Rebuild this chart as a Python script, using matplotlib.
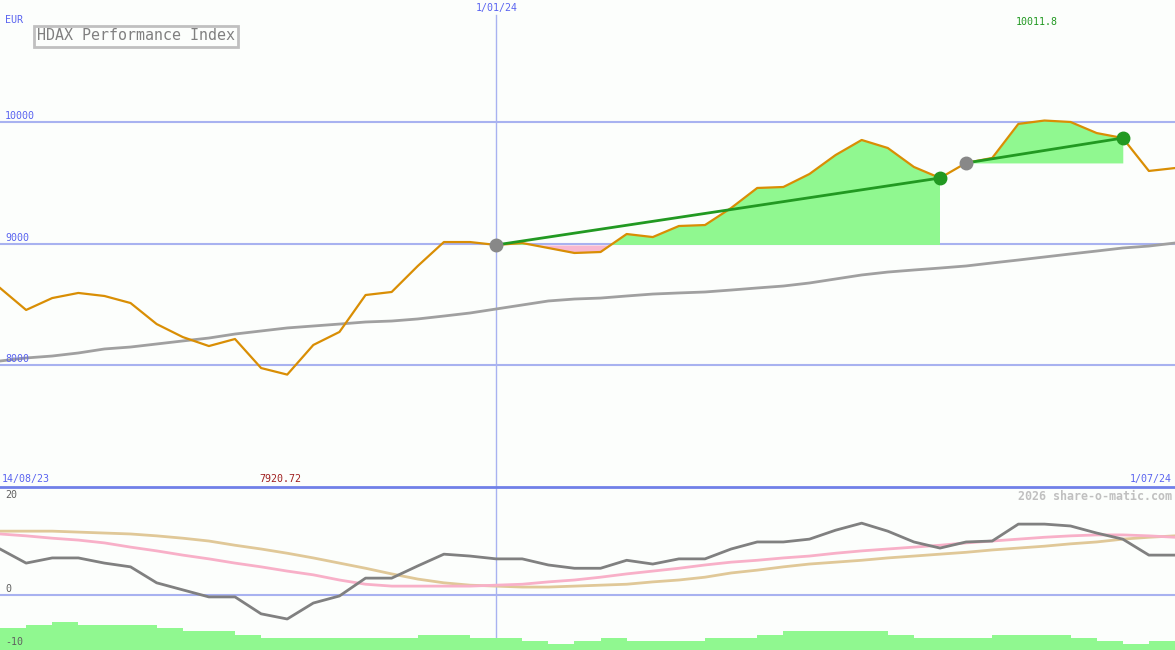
import numpy as np
import matplotlib
matplotlib.use("Agg")
import matplotlib.pyplot as plt

# weekly closes, 14/08/23 .. 1/07/24
price = [8634, 8453, 8551, 8593, 8568, 8510, 8337, 8230, 8156, 8214,
         7975, 7921, 8165, 8272, 8576, 8601, 8815, 9012, 9012, 8988,
         9004, 8963, 8922, 8930, 9078, 9053, 9144, 9152, 9292, 9457,
         9465, 9572, 9728, 9852, 9786, 9630, 9539, 9663, 9704, 9984,
         10012, 10000, 9909, 9868, 9597, 9621]
ma = [8033, 8058, 8074, 8099, 8132, 8148, 8173, 8198, 8222, 8255,
      8280, 8305, 8321, 8337, 8354, 8362, 8379, 8403, 8428, 8461,
      8494, 8527, 8543, 8551, 8568, 8584, 8593, 8601, 8617, 8634,
      8650, 8675, 8708, 8741, 8765, 8782, 8798, 8815, 8840, 8864,
      8889, 8914, 8938, 8963, 8979, 9004]
# lower panel
mom = [9.8, 6.8, 7.9, 7.9, 6.8, 6.0, 2.6, 1.1, -0.4, -0.4,
       -4.0, -5.1, -1.7, -0.2, 3.6, 3.6, 6.2, 8.7, 8.3, 7.7,
       7.7, 6.4, 5.7, 5.7, 7.4, 6.6, 7.7, 7.7, 9.8, 11.3,
       11.3, 11.9, 13.8, 15.3, 13.6, 11.3, 10.0, 11.3, 11.5, 15.1,
       15.1, 14.7, 13.2, 11.9, 8.5, 8.5]
sig1 = [13.0, 12.6, 12.1, 11.7, 11.1, 10.2, 9.4, 8.5, 7.7, 6.8,
        6.0, 5.1, 4.3, 3.2, 2.3, 1.9, 1.9, 1.9, 1.9, 2.1,
        2.3, 2.8, 3.2, 3.8, 4.5, 5.1, 5.7, 6.4, 7.0, 7.4,
        7.9, 8.3, 8.9, 9.4, 9.8, 10.2, 10.6, 11.1, 11.5, 11.9,
        12.3, 12.6, 12.8, 12.8, 12.6, 12.3]
sig2 = [13.6, 13.6, 13.6, 13.4, 13.2, 13.0, 12.6, 12.1, 11.5, 10.6,
        9.8, 8.9, 7.9, 6.8, 5.7, 4.5, 3.4, 2.6, 2.1, 1.9,
        1.7, 1.7, 1.9, 2.1, 2.3, 2.8, 3.2, 3.8, 4.7, 5.3,
        6.0, 6.6, 7.0, 7.4, 7.9, 8.3, 8.7, 9.1, 9.6, 10.0,
        10.4, 10.9, 11.3, 11.9, 12.3, 12.6]
bars = [-7.0, -6.4, -5.7, -6.4, -6.4, -6.4, -7.0, -7.7, -7.7, -8.5,
        -9.1, -9.1, -9.1, -9.1, -9.1, -9.1, -8.5, -8.5, -9.1, -9.1,
        -9.8, -10.4, -9.8, -9.1, -9.8, -9.8, -9.8, -9.1, -9.1, -8.5,
        -7.7, -7.7, -7.7, -7.7, -8.5, -9.1, -9.1, -9.1, -8.5, -8.5,
        -8.5, -9.1, -9.8, -10.4, -9.8]
trends = [(19, 36), (37, 43)]
grid_levels = [10000, 9000, 8000]

W, H = 1175, 650
bg = "#fcfefc"
blue_txt = "#5a64f0"
grid_c = "#a8b2f0"
mono = "DejaVu Sans Mono"

fig = plt.figure(figsize=(W / 100, H / 100), dpi=100, facecolor=bg)
top = fig.add_axes([0, 163 / H, 1, 487 / H])
bot = fig.add_axes([0, 0, 1, 163 / H])
for ax in (top, bot):
    ax.set_facecolor(bg)
    ax.set_axis_off()
    ax.set_xlim(0, 45)

x = np.arange(len(price))
p = np.array(price, dtype=float)

top.set_ylim(6996, 11004)
for lv in grid_levels:
    top.axhline(lv, color=grid_c, lw=1.5, zorder=1)
top.axvline(19, color=grid_c, lw=1, ymin=0, ymax=0.97, zorder=1)
top.plot(x, ma, color="#a0a0a0", lw=2, zorder=3)

for a, b in trends:
    xs = x[a:b + 1]
    ys = p[a:b + 1]
    base = p[a]
    top.fill_between(xs, ys, base, where=ys >= base, interpolate=True,
                     color="#90f890", lw=0, zorder=2)
    top.fill_between(xs, ys, base, where=ys < base, interpolate=True,
                     color="#f8b8d0", lw=0, zorder=2)
    top.plot([a, b], [p[a], p[b]], color="#229922", lw=2, zorder=5)
    top.plot(a, p[a], "o", color="#888888", ms=9, zorder=6)
    top.plot(b, p[b], "o", color="#229922", ms=9, zorder=6)

top.plot(x, p, color="#d98e04", lw=1.6, zorder=4)

bot.set_ylim(-11.7, 23.0)
bot.axhline(0, color=grid_c, lw=1.5, zorder=1)
bot.axvline(19, color=grid_c, lw=1, zorder=1)
bot.bar(np.arange(len(bars)), np.array(bars) + 11.7, bottom=-11.7, width=1,
        align="edge", color="#90f890", lw=0, zorder=2)
bot.plot(x, sig2, color="#e0c898", lw=2, zorder=3)
bot.plot(x, sig1, color="#f8b0c8", lw=2, zorder=3)
bot.plot(x, mom, color="#808080", lw=2, zorder=4)

# separator between panels
fig.add_artist(plt.Line2D([0, 1], [1 - 487 / H, 1 - 487 / H],
                          color="#7080e8", lw=2))


def txt(px, py, s, color=blue_txt, size=7.2, ha="left", **kw):
    fig.text(px / W, 1 - py / H, s, color=color, fontsize=size, ha=ha,
             va="center", family=mono, **kw)


txt(5, 20, "EUR")
fig.text(37 / W, 1 - 36 / H, "HDAX Performance Index", color="#808080",
         fontsize=10.8, family=mono, va="center", ha="left",
         bbox=dict(boxstyle="square,pad=0.2", fc=bg, ec="#c0c0c0", lw=2))
txt(5, 116, "10000")
txt(5, 238, "9000")
txt(5, 359, "8000")
txt(497, 8, "1/01/24", ha="center")
txt(1037, 22, "10011.8", color="#229922", ha="center")
txt(2, 479, "14/08/23")
txt(280, 479, "7920.72", color="#a02020", ha="center")
txt(1172, 479, "1/07/24", ha="right")
txt(5, 495, "20", color="#606060")
txt(5, 589, "0", color="#606060")
txt(5, 642, "-10", color="#606060")
txt(1172, 496, "2026 share-o-matic.com", color="#c0c0c0", size=8.4,
    ha="right", weight="bold")

fig.savefig("out.png", dpi=100, facecolor=bg)
